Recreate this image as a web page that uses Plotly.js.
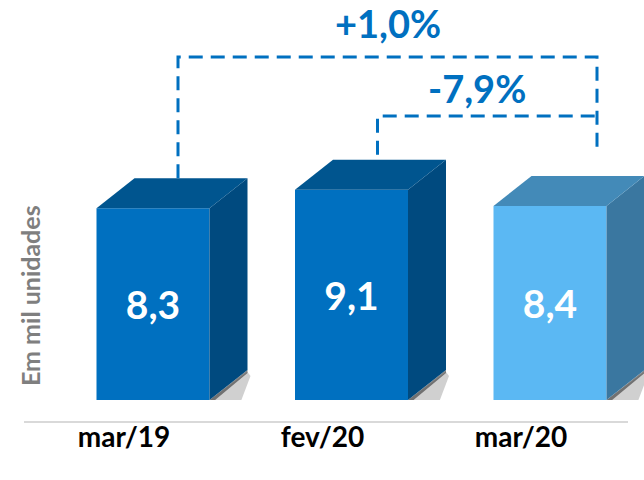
<!DOCTYPE html>
<html>
<head>
<meta charset="utf-8">
<script src="https://cdn.plot.ly/plotly-3.0.1.min.js"></script>
<style>html,body{margin:0;padding:0;background:#fff}#chart{width:644px;height:480px}</style>
</head>
<body>
<div id="chart"></div>
<script>
// ---- data ----
const categories = ["mar/19", "fev/20", "mar/20"];
const values = [8.3, 9.1, 8.4];
const valueLabels = ["8,3", "9,1", "8,4"];
const changeLabels = ["+1,0%", "-7,9%"];
const yTitle = "Em mil unidades";

// ---- styles / geometry ----
const frontColors = ["#0070C0", "#0070C0", "#5BB8F3"];
const topColors = ["#00558F", "#00558F", "#438AB8"];
const sideColors = ["#004A7F", "#004A7F", "#3A77A0"];
const lineBlue = "#0070C0";
const W = 644, H = 480, MB = 80;
const plotH = H - MB;               // 400
const pxPerUnitY = 23.1;
const yMax = plotH / pxPerUnitY;
const pxPerCat = 198.5, firstCenterPx = 153;
const xMin = -firstCenterPx / pxPerCat;
const xMax = (W - firstCenterPx) / pxPerCat;
const barW = 113 / pxPerCat;
const dx = 38 / pxPerCat, dy = 30 / pxPerUnitY;
const labelShift = -29 / pxPerCat;
const xs = categories.map((c, i) => i);
const px = p => p / pxPerCat, py = p => p / pxPerUnitY;

const shapes = [];
// soft shadows under the bars
xs.forEach((x, i) => {
  const xl = x - barW / 2, xr = x + barW / 2;
  shapes.push({type: "path", xref: "x", yref: "y", layer: "below",
    path: `M ${xl - px(14)},${-py(5)} L ${xr + dx - px(8)},${-py(5)} L ${xr + dx + px(3)},${dy - py(6)} L ${xr + dx},${dy - py(2)} L ${xr},0 L ${xl - px(8)},0 Z`,
    fillcolor: "rgba(120,120,120,0.35)", line: {width: 0}});
  shapes.push({type: "path", xref: "x", yref: "y", layer: "below",
    path: `M ${xl - px(6)},${-py(3)} L ${xr + px(2)},${-py(3)} L ${xr + dx},${dy - py(3)} L ${xr + dx},${dy} L ${xr},0 L ${xl - px(4)},0 Z`,
    fillcolor: "rgba(50,50,50,0.6)", line: {width: 0}});
});
// 3D faces
xs.forEach((x, i) => {
  const v = values[i];
  const xl = x - barW / 2, xr = x + barW / 2;
  shapes.push({type: "path", xref: "x", yref: "y", layer: "above",
    path: `M ${xr},0 L ${xr + dx},${dy} L ${xr + dx},${v + dy} L ${xr},${v} Z`,
    fillcolor: sideColors[i], line: {width: 0}});
  shapes.push({type: "path", xref: "x", yref: "y", layer: "above",
    path: `M ${xl},${v} L ${xl + dx},${v + dy} L ${xr + dx},${v + dy} L ${xr},${v} Z`,
    fillcolor: topColors[i], line: {width: 0}});
});
// brackets
const dashStyle = "14px,8px";
const bx0 = 0 + px(25), bx1 = 1 + px(26), bx2 = 2 + px(47);
const top1 = py(plotH - 57), top2 = py(plotH - 116);
const rightEnd = values[2] + dy + py(23);
const lineSty = {color: lineBlue, width: 3, dash: dashStyle};
shapes.push({type: "path", xref: "x", yref: "y", layer: "above",
  path: `M ${bx0},${values[0] + dy} L ${bx0},${top1} L ${bx2},${top1} L ${bx2},${rightEnd}`, line: lineSty});
shapes.push({type: "path", xref: "x", yref: "y", layer: "above",
  path: `M ${bx1},${values[1] + dy + py(5)} L ${bx1},${top2} L ${bx2},${top2}`, line: lineSty});
// baseline
shapes.push({type: "line", xref: "paper", yref: "paper", x0: 24 / W, x1: 628 / W,
  y0: (plotH - 422) / plotH, y1: (plotH - 422) / plotH, line: {color: "#D9D9D9", width: 2}});

const font = "Lato, 'Open Sans', Arial, sans-serif";
const annotations = [
  {xref: "x", yref: "paper", x: (bx0 + bx2) / 2, y: (plotH - 23) / plotH, text: "<b>" + changeLabels[0] + "</b>",
   showarrow: false, font: {family: font, size: 38, color: lineBlue}, xanchor: "center", yanchor: "middle"},
  {xref: "x", yref: "paper", x: (bx1 + bx2) / 2 - px(10), y: (plotH - 88) / plotH, text: "<b>" + changeLabels[1] + "</b>",
   showarrow: false, font: {family: font, size: 38, color: lineBlue}, xanchor: "center", yanchor: "middle"},
  {xref: "paper", yref: "paper", x: 30 / W, y: (plotH - 296) / plotH, text: "<b>" + yTitle + "</b>", textangle: -90,
   showarrow: false, font: {family: font, size: 25, color: "#7F7F7F"}, xanchor: "center", yanchor: "middle"}
];

const trace = {
  type: "bar", x: xs, y: values, width: barW,
  marker: {color: frontColors, line: {width: 0}},
  text: valueLabels.map(t => "<b>" + t + "</b>"), textposition: "inside", insidetextanchor: "middle",
  textangle: 0, constraintext: "none",
  textfont: {family: font, size: 39, color: "#FFFFFF"},
  hoverinfo: "skip"
};

const layout = {
  width: W, height: H, margin: {l: 0, r: 0, t: 0, b: MB},
  paper_bgcolor: "#fff", plot_bgcolor: "#fff", showlegend: false,
  xaxis: {range: [xMin, xMax], tickvals: xs.map(x => x + labelShift), ticktext: categories.map(c => "<b>" + c + "</b>"),
    showgrid: false, zeroline: false, showline: false, ticks: "", ticklabelstandoff: 18,
    tickfont: {family: font, size: 28, color: "#000"}},
  yaxis: {range: [0, yMax], visible: false, showgrid: false, zeroline: false},
  shapes: shapes, annotations: annotations
};
Plotly.newPlot("chart", [trace], layout, {staticPlot: true});
</script>
</body>
</html>
